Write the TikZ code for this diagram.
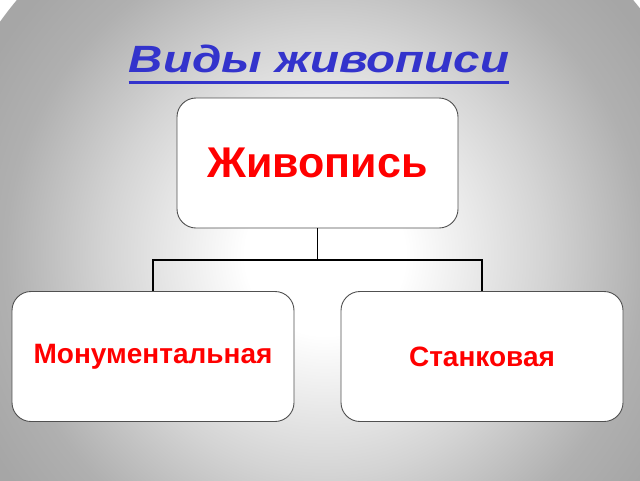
\documentclass[tikz,border=0pt]{standalone}
\usepackage{fontspec}
\setmainfont{Liberation Sans}
\usepackage{graphicx}
\usepackage{tikz}
\usetikzlibrary{positioning, calc}
\usepackage{xcolor}

\definecolor{titleblue}{RGB}{51,51,204}
\definecolor{boxline}{RGB}{80,80,80}
\definecolor{bgA}{gray}{1.0}
\definecolor{bgB}{gray}{0.83}
\definecolor{bgC}{gray}{0.69}
\definecolor{bgD}{gray}{0.65}
\pgfdeclareradialshading{bggray}{\pgfpoint{0bp}{0bp}}{%
  color(0bp)=(bgA); color(5bp)=(bgA); color(13.75bp)=(bgB);
  color(20bp)=(bgC); color(24.25bp)=(bgD); color(50bp)=(bgD)}

\tikzset{
  kind/.style={draw=boxline, line width=0.9pt, fill=white, rounded corners=19pt,
    minimum width=282pt, minimum height=130pt, inner sep=0pt,
    text=red, font=\bfseries\fontsize{28}{32}\selectfont},
  link/.style={draw=black, line width=1.8pt}
}

\begin{document}
\begin{tikzpicture}[x=1pt, y=-1pt]
    \useasboundingbox (0,0) rectangle (640,480);
    \begin{scope}
      \clip (0,0) rectangle (640,480);
      \shade[shading=bggray] (325,255) circle (400);
    \end{scope}

    \node[anchor=base, text=titleblue, inner sep=0pt, font=\bfseries\itshape\fontsize{38}{44}\selectfont]
      (title) at (319,72) {\scalebox{1.25}[1]{Виды живописи}};
    \draw[titleblue, line width=3pt] ($(title.base west)+(0,10)$) -- ($(title.base east)+(0,10)$);

    \node[kind, minimum width=281pt, font=\bfseries\fontsize{43}{48}\selectfont]
      (paint) at (317.5,163) {Живопись};
    \node[kind] (mono) at (153,356.5) {Монументальная};
    \node[kind] (easel) at (482,356.5) {Станковая};

    \coordinate (fork) at (317.5,260);
    \draw[link] (paint.south) -- (fork);
    \draw[link] (fork) -| (mono.north);
    \draw[link] (fork) -| (easel.north);
  \end{tikzpicture}
\end{document}
